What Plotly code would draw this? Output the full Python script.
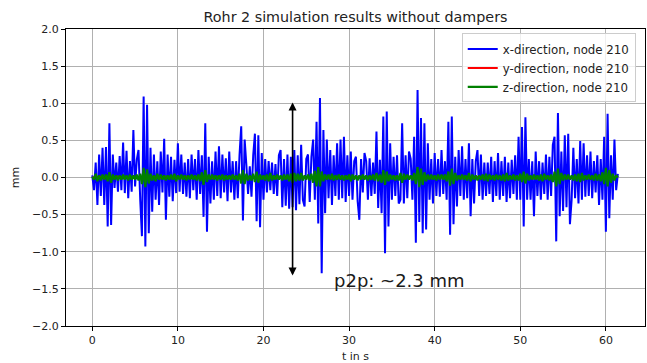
import plotly.graph_objects as go

# time step of the sampled series (s)
DT = 0.2

# x-direction, node 210 (mm), one row = 2 s
x_dir = [
    0.03, -0.17, 0.20, -0.37, 0.31, -0.25, 0.40, -0.37, 0.41, -0.66,
    0.73, -0.64, 0.31, -0.14, 0.20, -0.19, 0.29, -0.17, 0.47, -0.21,
    0.36, -0.28, 0.22, -0.19, 0.64, -0.12, 0.24, 0.37, -0.30, -0.79,
    1.09, -0.93, 0.98, -0.75, 0.40, -0.46, 0.31, -0.30, 0.22, -0.37,
    0.35, -0.20, 0.52, -0.57, 0.31, -0.26, 0.28, -0.32, 0.24, -0.21,
    0.46, -0.19, 0.31, -0.22, 0.20, -0.26, 0.25, -0.28, 0.31, -0.17,
    0.25, -0.30, 0.37, -0.22, 0.30, -0.53, 0.73, -0.73, 0.28, -0.35,
    0.22, -0.30, 0.35, -0.25, 0.42, -0.28, 0.31, -0.20, 0.26, -0.32,
    0.35, -0.20, 0.22, -0.30, 0.22, -0.28, 0.30, 0.69, -0.58, 0.51,
    0.17, -0.22, 0.15, -0.26, 0.30, 0.59, -0.59, 0.57, -0.67, 0.33,
    -0.30, 0.25, -0.20, 0.22, -0.17, 0.20, -0.22, 0.18, -0.25, 0.30,
    0.37, -0.40, 0.25, -0.38, 0.31, -0.42, 0.28, -0.40, 0.37, -0.44,
    0.30, -0.36, 0.44, -0.30, -0.39, 0.25, 0.31, -0.33, 0.28, 0.51,
    -0.30, 0.75, -0.62, 1.07, -1.29, 0.64, -0.48, 0.51, -0.28, 0.37,
    -0.37, 0.30, -0.25, 0.46, -0.30, 0.51, -0.28, 0.55, -0.33, 0.30,
    -0.25, 0.35, -0.30, 0.22, 0.28, -0.32, -0.57, 0.25, -0.20, 0.33,
    0.22, -0.30, 0.26, -0.25, 0.20, -0.22, 0.62, -0.41, 0.24, -0.48,
    0.82, -1.02, 0.89, -0.66, 0.46, -0.30, 0.28, -0.25, 0.30, -0.35,
    -0.30, 0.73, -0.35, 0.30, -0.28, 0.35, 0.25, -0.30, 0.55, -0.88,
    1.18, -0.60, 0.80, -0.75, 0.73, -0.70, 0.46, -0.30, 0.25, -0.35,
    0.33, -0.25, 0.25, -0.26, 0.37, -0.22, 0.22, -0.30, 0.75, -0.77,
    0.82, -0.63, 0.28, -0.39, 0.37, -0.25, 0.42, -0.30, 0.25, -0.28,
    0.46, -0.52, 0.25, -0.35, 0.22, 0.37, -0.25, 0.31, -0.30, 0.20,
    -0.25, 0.20, -0.22, 0.28, -0.33, 0.22, -0.25, 0.33, -0.30, 0.22,
    -0.25, 0.28, -0.33, 0.20, -0.28, 0.24, -0.22, 0.30, -0.30, 0.55,
    -0.30, 0.68, -0.66, 0.81, -0.30, 0.25, -0.30, 0.22, -0.52, 0.35,
    -0.25, 0.22, -0.30, 0.20, -0.22, 0.31, -0.30, 0.28, -0.25, 0.44,
    0.55, -0.86, 0.87, -0.52, 0.35, -0.45, 0.57, -0.40, 0.59, -0.63,
    -0.30, 0.40, -0.28, 0.25, -0.35, 0.49, -0.30, 0.46, -0.26, 0.30,
    -0.25, 0.35, -0.28, 0.22, -0.20, 0.30, -0.37, 0.25, -0.30, 0.55,
    -0.73, 0.86, -0.55, 0.30, -0.30, 0.51, -0.17, 0.05,
]

# z-direction, node 210 (mm)
z_dir = [
    0.01, -0.03, 0.05, -0.05, 0.03, -0.04, 0.04, -0.03, 0.04, -0.05,
    0.07, -0.07, 0.04, -0.03, 0.03, -0.04, 0.03, -0.03, 0.04, -0.03,
    0.03, -0.04, 0.04, -0.03, 0.03, -0.03, 0.04, -0.04, 0.05, -0.09,
    0.13, -0.13, 0.11, -0.08, 0.05, -0.04, 0.03, -0.05, 0.05, -0.03,
    0.04, -0.03, 0.03, -0.04, 0.03, -0.03, 0.04, -0.03, 0.05, -0.05,
    0.03, -0.03, 0.04, -0.03, 0.03, -0.04, 0.03, -0.03, 0.04, -0.03,
    0.03, -0.04, 0.04, -0.05, 0.07, -0.10, 0.10, -0.06, 0.04, -0.03,
    0.04, -0.03, 0.03, -0.04, 0.03, -0.03, 0.04, -0.04, 0.03, -0.03,
    0.03, -0.03, 0.04, -0.03, 0.03, -0.04, 0.05, -0.08, 0.10, -0.09,
    0.05, -0.04, 0.03, -0.04, 0.05, -0.06, 0.08, -0.07, 0.04, -0.03,
    0.03, -0.04, 0.04, -0.05, 0.06, -0.04, 0.03, -0.03, 0.04, -0.03,
    0.03, -0.04, 0.04, -0.03, 0.04, -0.05, 0.05, -0.07, 0.06, -0.05,
    0.05, -0.04, 0.06, -0.04, 0.03, -0.03, 0.04, -0.04, 0.05, -0.07,
    0.09, -0.12, 0.14, -0.12, 0.08, -0.05, 0.04, -0.03, 0.04, -0.03,
    0.05, -0.04, 0.03, -0.03, 0.04, -0.03, 0.03, -0.04, 0.03, -0.03,
    0.04, -0.05, 0.04, -0.03, 0.03, -0.04, 0.03, -0.03, 0.04, -0.03,
    0.03, -0.04, 0.03, -0.03, 0.04, -0.04, 0.06, -0.05, 0.04, -0.07,
    0.10, -0.10, 0.08, -0.05, 0.04, -0.03, 0.03, -0.04, 0.03, -0.04,
    0.06, -0.07, 0.05, -0.03, 0.04, -0.03, 0.03, -0.04, 0.06, -0.09,
    0.14, -0.13, 0.12, -0.10, 0.07, -0.05, 0.04, -0.03, 0.04, -0.03,
    0.03, -0.04, 0.04, -0.03, 0.04, -0.03, 0.04, -0.05, 0.08, -0.11,
    0.12, -0.09, 0.06, -0.04, 0.03, -0.03, 0.04, -0.03, 0.03, -0.04,
    0.06, -0.05, 0.04, -0.03, 0.03, -0.04, 0.03, -0.03, 0.04, -0.04,
    0.05, -0.05, 0.04, -0.03, 0.03, -0.04, 0.04, -0.03, 0.03, -0.04,
    0.04, -0.05, 0.06, -0.04, 0.03, -0.03, 0.04, -0.04, 0.03, -0.04,
    0.05, -0.06, 0.08, -0.08, 0.05, -0.04, 0.03, -0.03, 0.04, -0.03,
    0.03, -0.04, 0.04, -0.05, 0.05, -0.03, 0.03, -0.04, 0.04, -0.06,
    0.08, -0.12, 0.12, -0.09, 0.06, -0.04, 0.04, -0.03, 0.04, -0.03,
    0.03, -0.04, 0.04, -0.05, 0.05, -0.06, 0.06, -0.04, 0.03, -0.03,
    0.04, -0.03, 0.03, -0.04, 0.05, -0.04, 0.04, -0.05, 0.07, -0.09,
    0.13, -0.12, 0.10, -0.07, 0.05, -0.04, 0.03, 0.00,
]

# y-direction, node 210 (mm), sampled every 1 s
y_dir = [
    0.000, 0.006, -0.008, 0.010, -0.006, 0.004, -0.010, 0.008, -0.005, 0.006,
    -0.008, 0.005, -0.006, 0.010, -0.008, 0.006, -0.004, 0.008, -0.010, 0.006,
    -0.005, 0.004, -0.008, 0.006, -0.010, 0.008, -0.012, 0.006, -0.005, 0.008,
    -0.006, 0.004, -0.008, 0.010, -0.006, 0.005, -0.008, 0.010, -0.006, 0.008,
    -0.005, 0.006, -0.010, 0.004, -0.006, 0.008, -0.005, 0.006, -0.008, 0.004,
    -0.006, 0.008, -0.010, 0.006, -0.005, 0.004, -0.008, 0.006, -0.004, 0.008,
    -0.006, 0.002,
]

x_ticks = [0, 10, 20, 30, 40, 50, 60]
y_ticks = [-2.0, -1.5, -1.0, -0.5, 0.0, 0.5, 1.0, 1.5, 2.0]

# p2p marker (data coords)
arrow_t = 23.4
arrow_top = 1.03
arrow_bottom = -1.32
p2p_text = "p2p: ~2.3 mm"
p2p_pos = (28.0, -1.39)

t_fine = [round(i * DT, 3) for i in range(len(x_dir))]
t_z = [round(i * DT, 3) for i in range(len(z_dir))]
t_y = [float(i) for i in range(len(y_dir))]

FONT = "DejaVu Sans"

fig = go.Figure()
fig.add_trace(go.Scatter(x=t_fine, y=x_dir, mode="lines", name="x-direction, node 210",
                         line=dict(color="#0000ff", width=2)))
fig.add_trace(go.Scatter(x=t_y, y=y_dir, mode="lines", name="y-direction, node 210",
                         line=dict(color="#ff0000", width=2)))
fig.add_trace(go.Scatter(x=t_z, y=z_dir, mode="lines", name="z-direction, node 210",
                         line=dict(color="#008000", width=2.2)))

fig.add_annotation(x=arrow_t, y=arrow_bottom, ax=arrow_t, ay=arrow_top,
                   xref="x", yref="y", axref="x", ayref="y",
                   text="", showarrow=True, arrowhead=2, arrowsize=1,
                   arrowside="end+start", arrowwidth=1.6, arrowcolor="black")
fig.add_annotation(x=p2p_pos[0], y=p2p_pos[1], xref="x", yref="y",
                   text=p2p_text, showarrow=False, xanchor="left", yanchor="middle",
                   font=dict(family=FONT, size=18, color="#1a1a1a"))

axis_common = dict(
    showline=True, linecolor="black", linewidth=1, mirror=True,
    ticks="outside", ticklen=4, tickcolor="black", tickwidth=1,
    showgrid=True, gridcolor="#b0b0b0", gridwidth=1, zeroline=False,
    tickfont=dict(family=FONT, size=11, color="#222"),
)

fig.update_xaxes(range=[-3.07, 64.57], tickvals=x_ticks,
                 title=dict(text="t in s", font=dict(family=FONT, size=11, color="#222"), standoff=6),
                 **axis_common)
fig.update_yaxes(range=[-2.0, 2.0], tickvals=y_ticks, tickformat=".1f",
                 title=dict(text="mm", font=dict(family=FONT, size=11, color="#222"), standoff=10),
                 **axis_common)

fig.update_layout(
    width=647, height=363,
    margin=dict(l=66, r=2, t=29, b=37),
    paper_bgcolor="white", plot_bgcolor="white",
    title=dict(text="Rohr 2 simulation results without dampers",
               font=dict(family=FONT, size=14.3, color="#222"),
               x=(66 + 645) / 2 / 647, xanchor="center",
               y=1 - 17 / 363, yanchor="middle", yref="container"),
    legend=dict(x=0.984, y=0.985, xanchor="right", yanchor="top",
                bgcolor="rgba(255,255,255,0.8)", bordercolor="#cccccc", borderwidth=1,
                font=dict(family=FONT, size=11.8, color="#222"), itemwidth=30,
                tracegroupgap=0),
    showlegend=True,
)

fig.write_html("out.html")
